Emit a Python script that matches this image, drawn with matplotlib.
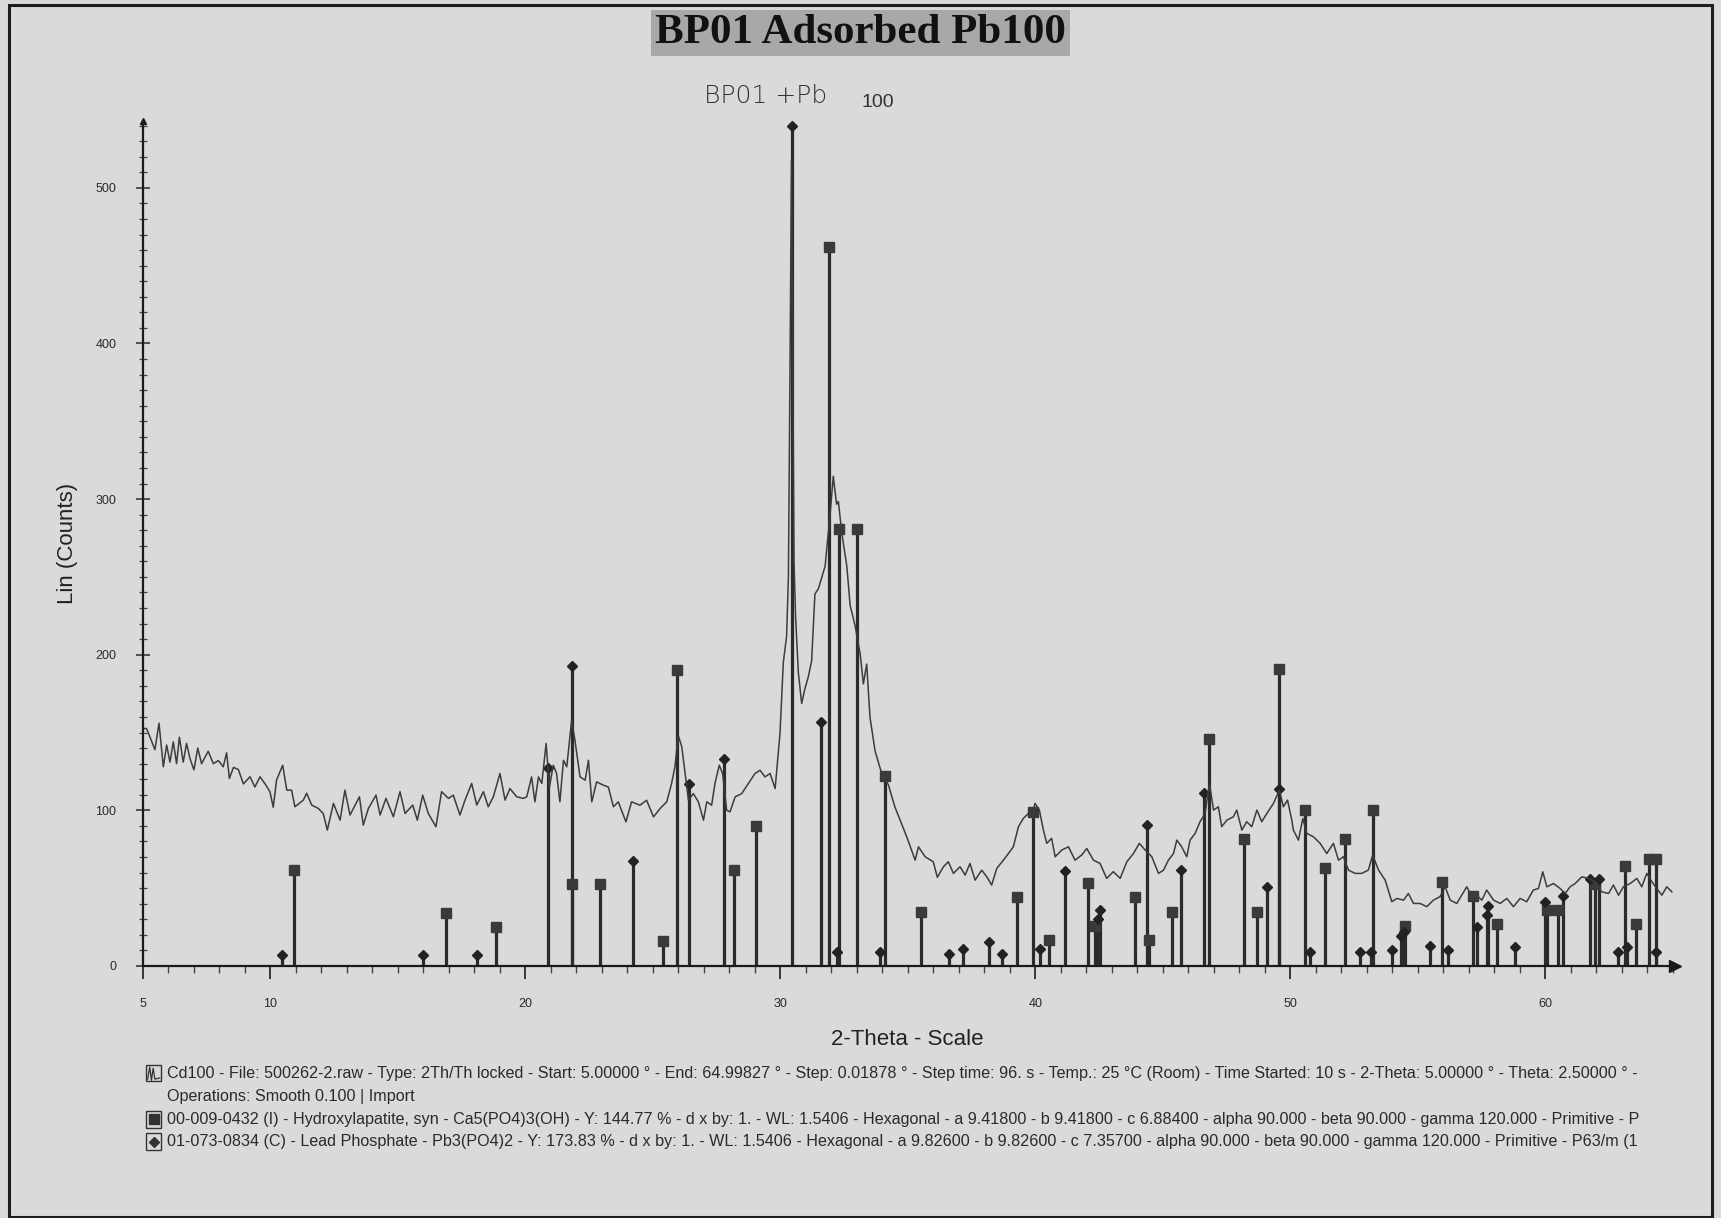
import matplotlib
matplotlib.use("Agg")
import matplotlib.pyplot as plt
from matplotlib.patches import Rectangle
from matplotlib.ticker import MultipleLocator, FixedLocator, FuncFormatter

two_theta = [5.02, 5.15, 5.29, 5.48, 5.64, 5.81, 5.94, 6.07, 6.20, 6.33, 6.44, 6.59, 6.72, 6.86, 7.01,
             7.16, 7.31, 7.57, 7.77, 7.97, 8.16, 8.29, 8.40, 8.56, 8.75, 8.95, 9.21, 9.40, 9.60, 9.80,
             9.99, 10.12, 10.25, 10.49, 10.65, 10.84, 10.97, 11.30, 11.43, 11.63, 11.89, 12.08, 12.24,
             12.48, 12.74, 12.93, 13.13, 13.50, 13.65, 13.85, 14.15, 14.31, 14.54, 14.83, 15.09, 15.29,
             15.59, 15.77, 15.98, 16.20, 16.50, 16.72, 16.99, 17.18, 17.44, 17.64, 17.90, 18.10, 18.36,
             18.55, 18.75, 19.01, 19.21, 19.40, 19.67, 19.93,
             20.06, 20.25, 20.38, 20.52, 20.65, 20.82, 20.95, 21.10, 21.23, 21.36, 21.50, 21.63, 21.82,
             21.95, 22.15, 22.35, 22.48, 22.61, 22.80, 23.06, 23.26, 23.46, 23.65, 23.95, 24.17, 24.50,
             24.76, 25.03, 25.29, 25.55, 25.74, 25.87, 26.00, 26.14, 26.27, 26.40, 26.59, 26.79, 26.99,
             27.12, 27.31, 27.44, 27.61, 27.74, 27.90, 28.03, 28.23, 28.49, 28.75, 29.01, 29.21, 29.40,
             29.60, 29.80, 29.99, 30.12, 30.25, 30.32, 30.39, 30.44, 30.49, 30.54, 30.60, 30.71, 30.84,
             30.97, 31.10, 31.23, 31.36, 31.50, 31.76, 31.95, 32.08, 32.21, 32.28, 32.41, 32.61, 32.74,
             32.93, 33.13, 33.26, 33.39, 33.52, 33.72, 33.98, 34.24, 34.50, 34.76, 34.96, 35.29,
             35.42, 35.68, 36.00, 36.16, 36.40, 36.59, 36.79, 37.05, 37.25, 37.44, 37.64, 37.90, 38.10,
             38.29, 38.49, 38.75, 38.95, 39.14, 39.34, 39.53, 39.73, 39.86, 39.99, 40.16, 40.32, 40.45,
             40.64, 40.78, 41.04, 41.30, 41.56, 41.82, 42.02, 42.28, 42.54, 42.80, 43.06, 43.33, 43.59,
             43.85, 44.08, 44.31, 44.57, 44.83, 45.03, 45.22, 45.42, 45.55, 45.74, 45.94, 46.07, 46.27,
             46.46, 46.66, 46.83, 46.99, 47.18, 47.31, 47.51, 47.77, 47.90, 48.10, 48.29, 48.49, 48.69,
             48.88, 49.08, 49.34, 49.57, 49.73, 49.89, 50.06,
             50.12, 50.32, 50.49, 50.65, 50.91, 51.17, 51.43, 51.69, 51.89, 52.08, 52.28, 52.54, 52.80,
             53.06, 53.23, 53.46, 53.72, 53.98, 54.18, 54.44, 54.63, 54.83, 55.09, 55.35, 55.61, 55.87,
             56.07, 56.27, 56.53, 56.72, 56.92, 57.12, 57.31, 57.51, 57.70, 57.97, 58.23, 58.49, 58.75,
             59.01, 59.27, 59.53, 59.73, 59.90, 60.06, 60.32, 60.58, 60.78, 60.97, 61.17, 61.43, 61.69,
             61.95, 62.21, 62.48, 62.67, 62.87, 63.06, 63.33, 63.59, 63.78, 63.98, 64.18, 64.37, 64.57,
             64.76, 64.96]
counts = [152.6, 152.6, 147, 139, 156, 128, 142, 131, 144, 130, 147, 131, 143, 133, 126,
          140, 130, 138, 130, 132, 128, 137, 120.5, 127.6, 126.3, 117, 121.6, 115, 121.6, 117,
          112, 102, 119.5, 129, 113, 113, 102.3, 106.6, 111, 103.4, 101.2, 98, 87.3,
          104.5, 93.7, 113, 97, 108.7, 90.5, 101.2, 109.8, 97, 107.7, 95.9, 112, 98,
          103.4, 93.7, 109.8, 98, 89.5, 112, 107.7, 109.8, 97, 106.6, 117.3, 103.4, 112,
          102.3, 108.7, 123.7, 106.6, 114, 108.7, 107.7,
          108.7, 121.5, 105.5, 121.5, 117.3, 143, 115, 129, 123.7, 105.5, 132.2, 128, 158,
          145, 121.5, 119.4, 132.2, 105.5, 118.3, 116.2, 115, 102.3, 105.5, 92.6, 105.5, 103.3,
          106.5, 95.8, 101.2, 105.5, 117.3, 128, 148.3, 140.8, 123.7, 106.5, 110.8, 105.5, 93.7,
          105.5, 103.3, 117.3, 129, 123.7, 100.1, 99, 108.7, 110.8, 117.3, 123.7, 125.8, 121.5,
          123.7, 114, 149.4, 195, 212, 250, 400, 518, 400, 260, 225, 188.5, 168.7,
          178.3, 185.8, 196, 239, 242.6, 257, 289.5, 314.7, 296.7, 298.5, 278.7, 257, 231.8,
          219, 201, 181.3, 194, 159.7, 138, 123.6, 116.4, 102, 91.2, 83, 68,
          76.6, 70.2, 67, 57, 63.8, 67, 59.5, 63.8, 58.4, 65.9, 55.2, 61.6, 57.3,
          52, 62.7, 68, 72.3, 76.6, 89.5, 94.8, 98, 95.9, 104.5, 100.2, 87.3, 78.8,
          82, 70.2, 74.5, 76.6, 68, 71.3, 75.5, 68, 65.9, 56.3, 60.6, 56.3, 67,
          72.3, 78.8, 74.5, 70.2, 59.5, 61.6, 68, 72.3, 80.9, 76.6, 70.2, 80.9, 85.2,
          92.7, 98, 117.3, 100.2, 102.3, 89.5, 93.7, 95.9, 100.2, 87.3, 92.7, 89.5, 100.2,
          92.7, 98, 104.5, 113, 102.3, 106.6, 93.7,
          87.3, 80.9, 94.8, 85.2, 83, 78.8, 72.3, 78.8, 68, 70.2, 61.6, 59.5, 59.5,
          61.6, 71.3, 61.6, 55.2, 41.3, 43.4, 42.3, 46.6, 40.2, 40.2, 38.1, 42.3, 44.5,
          50.9, 42.3, 40.2, 45.5, 50.9, 44.5, 45.5, 42.3, 48.8, 42.3, 40.2, 43.4, 38.1,
          43.4, 41.3, 48.8, 49.8, 60.5, 50.9, 53, 49.8, 46.6, 50.9, 53, 57.3, 56.3,
          54.1, 47.7, 46.6, 52, 45.5, 50.9, 53, 56.3, 50.9, 59.5, 54.1, 49.8, 45.5,
          50.9, 47.7]

# 00-009-0432 Hydroxylapatite (squares)
hap_pos = [10.93, 16.89, 18.87, 21.85, 22.93, 25.42, 25.94, 28.17, 29.03, 31.93, 32.30, 33.02,
           34.10, 35.53, 39.27, 39.90, 40.54, 42.06, 42.35, 43.93, 44.47, 45.36, 46.80, 48.18,
           48.69, 49.57, 50.58, 51.37, 52.15, 53.26, 54.51, 55.96, 57.18, 58.12, 60.08, 60.51,
           61.95, 63.13, 63.56, 64.07, 64.33]
hap_int = [62, 34, 25, 53, 53, 16, 190, 62, 90, 462, 281, 281,
           122, 35, 44.5, 99, 16.6, 53.5, 26, 44.5, 16.6, 35, 145.6, 81.5,
           35, 190.8, 100, 63, 81.5, 100, 26, 54, 45, 27, 36, 36,
           53, 64, 27, 68.5, 68.5]

# 01-073-0834 Lead Phosphate (diamonds)
pbp_pos = [10.47, 15.98, 18.12, 20.88, 21.82, 24.22, 26.44, 27.80, 30.47, 31.59, 32.22, 33.91,
           36.61, 37.18, 38.18, 38.69, 40.19, 41.17, 42.45, 42.55, 44.37, 45.70, 46.62, 49.08,
           49.57, 50.78, 52.74, 53.16, 53.97, 54.35, 54.45, 55.48, 56.20, 57.31, 57.70, 57.77,
           58.82, 59.97, 60.69, 61.76, 62.10, 62.83, 63.20, 64.33]
pbp_int = [7, 7, 7, 127, 193, 67.6, 117, 132.7, 540, 157, 9, 9,
           8, 11, 15.4, 8, 11, 61, 30, 36, 90.5, 62, 111, 51,
           113.5, 9, 9, 9, 10, 19, 22, 13, 10, 25, 32.5, 38.7,
           12, 41, 45, 55.6, 55.6, 9, 12, 9]

x_major = [5, 10, 20, 30, 40, 50, 60]

legend_lines = [
    "Cd100 - File: 500262-2.raw - Type: 2Th/Th locked - Start: 5.00000 \u00b0 - End: 64.99827 \u00b0 - Step: 0.01878 \u00b0 - Step time: 96. s - Temp.: 25 \u00b0C (Room) - Time Started: 10 s - 2-Theta: 5.00000 \u00b0 - Theta: 2.50000 \u00b0 -",
    "Operations: Smooth 0.100 | Import",
    "00-009-0432 (I) - Hydroxylapatite, syn - Ca5(PO4)3(OH) - Y: 144.77 % - d x by: 1. - WL: 1.5406 - Hexagonal - a 9.41800 - b 9.41800 - c 6.88400 - alpha 90.000 - beta 90.000 - gamma 120.000 - Primitive - P",
    "01-073-0834 (C) - Lead Phosphate - Pb3(PO4)2 - Y: 173.83 % - d x by: 1. - WL: 1.5406 - Hexagonal - a 9.82600 - b 9.82600 - c 7.35700 - alpha 90.000 - beta 90.000 - gamma 120.000 - Primitive - P63/m (1",
]

bg = "#dadada"
ink = "#2b2b2b"
plt.rcParams["font.family"] = ["Liberation Sans", "DejaVu Sans"]

fig = plt.figure(figsize=(17.21, 12.18), dpi=100, facecolor=bg)
ax = fig.add_axes([0.0829, 0.2069, 0.8906, 0.6938])
ax.set_facecolor(bg)

# reference sticks
ax.vlines(hap_pos, 0, hap_int, color=ink, lw=2.3)
ax.vlines(pbp_pos, 0, pbp_int, color=ink, lw=2.3)
ax.plot(hap_pos, hap_int, "s", color="#3a3a3a", ms=7, ls="none")
ax.plot(pbp_pos, pbp_int, "D", color="#222222", ms=5, ls="none")

# measured pattern
ax.plot(two_theta, counts, color="#3c3c3c", lw=1.1)

ax.set_xlim(5, 65.1)
ax.set_ylim(0, 543)
for s in ["top", "right"]:
    ax.spines[s].set_visible(False)
for s in ["left", "bottom"]:
    ax.spines[s].set_color("#1a1a1a")
    ax.spines[s].set_linewidth(1.6)

ax.xaxis.set_major_locator(FixedLocator(x_major))
ax.xaxis.set_minor_locator(MultipleLocator(1))
ax.yaxis.set_major_locator(MultipleLocator(100))
ax.yaxis.set_minor_locator(MultipleLocator(10))
ax.xaxis.set_major_formatter(FuncFormatter(lambda v, p: f"{v:g}"))
ax.tick_params(axis="x", which="major", direction="out", length=9, width=1.3, colors="#2a2a2a",
               labelsize=9, pad=14)
ax.tick_params(axis="x", which="minor", direction="out", length=5, width=1.0, colors="#444444")
ax.tick_params(axis="y", which="major", direction="inout", length=10, width=1.1, colors="#2a2a2a",
               labelsize=9, pad=14)
ax.tick_params(axis="y", which="minor", direction="inout", length=6, width=0.9, colors="#444444")

# axis arrow heads
ax.plot(1, 0, marker=">", color="#1a1a1a", ms=9, transform=ax.transAxes, clip_on=False)
ax.plot(0, 1, marker="^", color="#1a1a1a", ms=5, transform=ax.transAxes, clip_on=False)

fig.text(0.0395, 0.554, "Lin (Counts)", rotation=90, ha="center", va="center", fontsize=16,
         color="#222222")
fig.text(0.527, 0.1466, "2-Theta - Scale", ha="center", va="center", fontsize=16, color="#222222")

# title with grey box
fig.text(0.5, 0.973, "BP01 Adsorbed Pb100", ha="center", va="center", fontsize=31,
         fontweight="bold", family="Liberation Serif", color="#111111",
         bbox=dict(facecolor="#a8a8a8", edgecolor="none", pad=3))

# handwritten note
fig.text(0.409, 0.921, "BP01 +Pb", ha="left", va="center", fontsize=18, color="#333333",
         family="DejaVu Sans", fontweight="light")
fig.text(0.5006, 0.916, "100", ha="left", va="center", fontsize=14, color="#333333")

# file / phase legend
renderer = fig.canvas.get_renderer()
line_y = [0.119, 0.0997, 0.0809, 0.0628]
target_w = 0.957 - 0.097
fs = 10.5
for i, (txt, yy) in enumerate(zip(legend_lines, line_y)):
    t = fig.text(0.097, yy, txt, ha="left", va="center", fontsize=fs, color="#2a2a2a")
    if i == 0:
        bb = t.get_window_extent(renderer)
        fs = fs * target_w * fig.bbox.width / bb.width
    t.set_fontsize(fs)

# small legend icons
icon_w, icon_h = 0.0088, 0.0135
for yy in [0.119, 0.0809, 0.0628]:
    fig.patches.append(Rectangle((0.0848, yy - icon_h / 2), icon_w, icon_h, transform=fig.transFigure,
                                 facecolor="none", edgecolor="#333333", lw=1.0))
fig.lines.append(plt.Line2D([0.0858, 0.0870, 0.0880, 0.0890, 0.0900, 0.0928],
                            [0.114, 0.124, 0.113, 0.123, 0.114, 0.115],
                            transform=fig.transFigure, color="#333333", lw=0.9))
fig.lines.append(plt.Line2D([0.0892], [0.0809], marker="s", ms=7, color="#333333",
                            transform=fig.transFigure))
fig.lines.append(plt.Line2D([0.0892], [0.0628], marker="D", ms=5.5, color="#333333",
                            transform=fig.transFigure))

# scanned page frame
fig.patches.append(Rectangle((0.0052, 0.001), 0.9896, 0.9948, transform=fig.transFigure,
                             facecolor="none", edgecolor="#1e1e1e", lw=2.2))

fig.savefig("out.png", dpi=100, facecolor=bg)
